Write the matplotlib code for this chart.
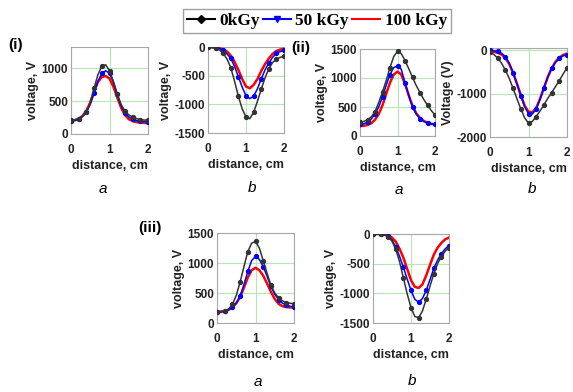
import matplotlib
matplotlib.use("Agg")
import matplotlib.pyplot as plt
from matplotlib.lines import Line2D

plt.rcParams['font.family'] = ['Liberation Sans', 'DejaVu Sans']
plt.rcParams['axes.unicode_minus'] = False

dist = [0.0, 0.1, 0.2, 0.3, 0.4, 0.5, 0.6, 0.7, 0.8, 0.9, 1.0,
        1.1, 1.2, 1.3, 1.4, 1.5, 1.6, 1.7, 1.8, 1.9, 2.0]

# (i) a
i_a_0 = [210, 215, 235, 275, 340, 470, 700, 900, 1030, 1050, 960, 800, 610, 450, 350, 290, 260, 235, 220, 212, 210]
i_a_50 = [200, 205, 225, 265, 330, 450, 620, 800, 920, 960, 920, 790, 600, 430, 320, 260, 225, 205, 195, 190, 188]
i_a_100 = [200, 210, 230, 275, 350, 480, 650, 790, 865, 880, 840, 720, 560, 400, 290, 225, 195, 180, 172, 168, 165]
# (i) b
i_b_0 = [-5, -10, -20, -50, -110, -210, -360, -600, -860, -1080, -1220, -1250, -1140, -950, -740, -540, -380, -270, -210, -180, -160]
i_b_50 = [0, -3, -10, -25, -60, -120, -200, -340, -520, -700, -850, -900, -860, -730, -560, -400, -280, -180, -110, -80, -60]
i_b_100 = [0, -3, -10, -20, -40, -80, -150, -260, -400, -560, -690, -720, -660, -560, -420, -300, -200, -120, -70, -45, -30]
# (ii) a
ii_a_0 = [240, 250, 280, 330, 420, 580, 760, 960, 1180, 1370, 1460, 1420, 1300, 1160, 1010, 870, 750, 630, 530, 440, 360]
ii_a_50 = [200, 210, 240, 290, 380, 500, 680, 880, 1060, 1180, 1210, 1150, 920, 700, 500, 380, 300, 250, 220, 205, 200]
ii_a_100 = [170, 175, 190, 220, 280, 380, 530, 730, 920, 1060, 1110, 1060, 900, 700, 520, 390, 310, 260, 230, 210, 200]
# (ii) b
ii_b_0 = [-50, -100, -180, -300, -460, -650, -880, -1120, -1350, -1560, -1680, -1640, -1530, -1400, -1260, -1110, -980, -840, -700, -550, -400]
ii_b_50 = [0, -10, -30, -70, -150, -300, -520, -780, -1050, -1300, -1460, -1470, -1360, -1130, -870, -620, -420, -280, -190, -130, -100]
ii_b_100 = [-30, -40, -60, -100, -180, -320, -520, -770, -1030, -1280, -1420, -1430, -1330, -1120, -870, -620, -420, -270, -170, -110, -80]
# (iii) a
iii_a_0 = [190, 195, 200, 230, 310, 460, 680, 940, 1190, 1330, 1360, 1250, 1040, 830, 630, 500, 420, 370, 340, 330, 320]
iii_a_50 = [180, 185, 200, 220, 260, 330, 450, 640, 860, 1040, 1110, 1060, 940, 780, 610, 480, 390, 330, 300, 280, 270]
iii_a_100 = [180, 185, 200, 220, 260, 330, 430, 590, 760, 880, 920, 880, 790, 660, 520, 400, 320, 280, 265, 260, 260]
# (iii) b
iii_b_0 = [0, -2, -5, -15, -50, -120, -260, -470, -740, -1010, -1240, -1390, -1410, -1300, -1100, -880, -670, -500, -380, -290, -230]
iii_b_50 = [0, -2, -5, -15, -40, -100, -220, -380, -560, -760, -950, -1100, -1150, -1090, -950, -770, -580, -440, -330, -250, -200]
iii_b_100 = [0, 0, -2, -8, -20, -60, -130, -250, -400, -590, -780, -890, -910, -850, -700, -520, -350, -230, -150, -90, -60]

W, H = 573, 392
fig = plt.figure(figsize=(W / 100, H / 100), dpi=100)

def px_axes(x0, y0, x1, y1):
    return fig.add_axes([x0 / W, 1 - y1 / H, (x1 - x0) / W, (y1 - y0) / H])

panels = [
    # box (px), data, ylim, yticks, ylabel, sub-letter position
    ((71, 47, 148, 134), (i_a_0, i_a_50, i_a_100), (0, 1320), [0, 500, 1000], 'voltage, V', 'a', (103, 189)),
    ((208, 47, 284, 133), (i_b_0, i_b_50, i_b_100), (-1500, 0), [0, -500, -1000, -1500], 'voltage, V', 'b', (252, 188)),
    ((360, 49, 435, 136), (ii_a_0, ii_a_50, ii_a_100), (0, 1500), [0, 500, 1000, 1500], 'voltage, V', 'a', (399, 190)),
    ((490, 48, 567, 137), (ii_b_0, ii_b_50, ii_b_100), (-2000, 50), [0, -1000, -2000], 'Voltage (V)', 'b', (532, 189)),
    ((217, 233, 294, 323), (iii_a_0, iii_a_50, iii_a_100), (0, 1500), [0, 500, 1000, 1500], 'voltage, V', 'a', (258, 382)),
    ((373, 234, 449, 323), (iii_b_0, iii_b_50, iii_b_100), (-1500, 0), [0, -500, -1000, -1500], 'voltage, V', 'b', (412, 381)),
]

for box, (y0, y50, y100), ylim, yt, ylab, letter, lpos in panels:
    ax = px_axes(*box)
    ax.plot(dist, y100, color='red', lw=1.8, zorder=3)
    ax.plot(dist, y50, color='blue', lw=1.1, marker='o', ms=2.8, markevery=2, zorder=4)
    ax.plot(dist, y0, color='#333333', lw=1.1, marker='o', ms=2.8, markevery=2, zorder=5)
    ax.set_xlim(0, 2)
    ax.set_ylim(*ylim)
    ax.set_xticks([0, 1, 2])
    ax.set_yticks(yt)
    ax.grid(True, color='#b5e6b5', lw=0.8)
    ax.set_axisbelow(True)
    for s in ax.spines.values():
        s.set_color('#a8a8a8')
        s.set_linewidth(0.8)
    ax.tick_params(length=0, labelsize=8.5, pad=2)
    ax.tick_params(axis='x', pad=7)
    for t in ax.get_xticklabels() + ax.get_yticklabels():
        t.set_fontweight('bold')
        t.set_color('#222222')
    ax.set_xlabel('distance, cm', fontsize=9, fontweight='bold', labelpad=3, color='#222222')
    ax.set_ylabel(ylab, fontsize=9, fontweight='bold', labelpad=2, color='#222222')
    fig.text(lpos[0] / W, 1 - lpos[1] / H, letter, fontsize=11, style='italic',
             ha='center', va='center')

fig.text(16 / W, 1 - 45 / H, '(i)', fontsize=11, fontweight='bold', ha='center', va='center')
fig.text(301 / W, 1 - 48 / H, '(ii)', fontsize=11, fontweight='bold', ha='center', va='center')
fig.text(150 / W, 1 - 228 / H, '(iii)', fontsize=11, fontweight='bold', ha='center', va='center')

handles = [
    Line2D([], [], color='black', lw=1.5, marker='D', ms=4),
    Line2D([], [], color='blue', lw=1.5, marker='v', ms=5),
    Line2D([], [], color='red', lw=1.5),
]
leg = fig.legend(handles, ['0kGy', '50 kGy', '100 kGy'], ncol=3,
                 loc='center', bbox_to_anchor=(317 / W, 1 - 21 / H),
                 prop={'family': 'Liberation Serif', 'weight': 'bold', 'size': 12.5},
                 frameon=True, fancybox=False, handlelength=1.6, handletextpad=0.25,
                 columnspacing=0.2, borderpad=0.25, borderaxespad=0)
leg.get_frame().set_edgecolor('#888888')
leg.get_frame().set_linewidth(1.0)

fig.savefig('out.png', dpi=100)
